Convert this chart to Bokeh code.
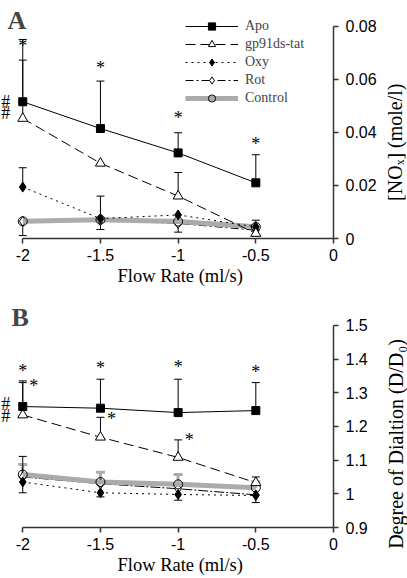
import math
from bokeh.plotting import figure
from bokeh.models import Range1d, FixedTicker, Label, Legend, LegendItem, Title
from bokeh.layouts import column, row
from bokeh.embed import file_html
from bokeh.resources import INLINE
from bokeh.core.properties import value

# ---------------- data ----------------
flow = [-2.0, -1.5, -1.0, -0.5]
x_ticks = [-2, -1.5, -1, -0.5, 0]
x_tick_labels = ["-2", "-1.5", "-1", "-0.5", "0"]

# Panel A: [NOx] (mole/l)
nox_apo = [0.0516, 0.0415, 0.0323, 0.0210]
nox_apo_up = [0.0235, 0.0179, 0.0076, 0.0106]
nox_gp91 = [0.0453, 0.0284, 0.0160, 0.0019]
nox_gp91_up = [0.0220, 0.0, 0.0089, 0.0]
nox_oxy = [0.0194, 0.0075, 0.0089, 0.0044]
nox_oxy_up = [0.0073, 0.0085, 0.0, 0.0025]
nox_rot = [0.0065, 0.0068, 0.0057, 0.0031]
nox_ctrl = [0.0065, 0.0071, 0.0064, 0.0044]
nox_ctrl_dn = [0.0054, 0.0037, 0.0040, 0.0]
nox_ticks = [0, 0.02, 0.04, 0.06, 0.08]
nox_tick_labels = ["0", "0.02", "0.04", "0.06", "0.08"]
nox_star_y = [0.0726, 0.0642, 0.0453, 0.0356]
nox_hash_y = [0.0515, 0.0472]

# Panel B: Degree of dilation (D/D0)
dil_apo = [1.259, 1.254, 1.241, 1.247]
dil_apo_up = [0.076, 0.086, 0.099, 0.083]
dil_gp91 = [1.234, 1.168, 1.108, 1.033]
dil_gp91_up = [0.096, 0.059, 0.052, 0.017]
dil_oxy = [1.035, 1.003, 0.998, 0.995]
dil_oxy_dn = [0.032, 0.012, 0.017, 0.021]
dil_rot = [1.050, 1.030, 1.015, 0.997]
dil_rot_up = [0.061, 0.0, 0.0, 0.0]
dil_ctrl = [1.057, 1.035, 1.028, 1.018]
dil_ctrl_up = [0.030, 0.029, 0.029, 0.018]
dil_ticks = [0.9, 1, 1.1, 1.2, 1.3, 1.4, 1.5]
dil_tick_labels = ["0.9", "1", "1.1", "1.2", "1.3", "1.4", "1.5"]
dil_star_apo_y = [1.364, 1.372, 1.375, 1.360]
dil_star_gp91_x = [-2.0, -1.5, -1.0]
dil_star_gp91_y = [1.321, 1.222, 1.160]
dil_hash_y = [1.2665, 1.2311]

x_title = "Flow Rate (ml/s)"
y_title_a = "[NO\u2093] (mole/l)"
y_title_b = "Degree of Dialtion (D/D\u2080)"

GRAY = "#ababab"
AXIS = "#333333"
SERIF = "Liberation Serif"
SANS = "Liberation Sans"
MAIN_W = 379
SIDE_W = 28


def err_bars(p, xs, ys, errs, sign, color="black", width=1, cap=8):
    x0, y0, y1 = [], [], []
    for x, y, e in zip(xs, ys, errs):
        if e > 0:
            x0.append(x)
            y0.append(y)
            y1.append(y + sign * e)
    p.segment(x0=x0, y0=y0, x1=x0, y1=y1, line_color=color, line_width=width)
    p.scatter(x=x0, y=y1, marker="dash", size=cap, line_color=color, line_width=width)


def series(p, ys, dash, marker, fill, size, lw=1, color="black"):
    l = p.line(flow, ys, line_color=color, line_width=lw, line_dash=dash)
    s = p.scatter(flow, ys, marker=marker, size=size, line_color="black",
                  fill_color=fill, line_width=1)
    return [l, s]


def style(p, yticks, ylabels, ybounds, title_standoff):
    p.xaxis.ticker = FixedTicker(ticks=x_ticks)
    p.xaxis.major_label_overrides = {t: l for t, l in zip(x_ticks, x_tick_labels)}
    p.yaxis.ticker = FixedTicker(ticks=yticks)
    p.yaxis.major_label_overrides = {t: l for t, l in zip(yticks, ylabels)}
    p.xaxis.bounds = (-2, 0)
    p.yaxis.bounds = ybounds
    for ax in (p.xaxis, p.yaxis):
        ax.major_tick_out = 5
        ax.major_tick_in = 0
        ax.minor_tick_out = 0
        ax.minor_tick_in = 0
        ax.axis_line_color = AXIS
        ax.axis_line_width = 1.5
        ax.major_tick_line_color = AXIS
        ax.major_tick_line_width = 1.5
        ax.major_label_text_font = SANS
        ax.major_label_text_font_size = "16px"
        ax.major_label_text_color = "black"
    p.xaxis.major_label_standoff = 5
    p.yaxis.major_label_standoff = 7
    p.xgrid.visible = False
    p.ygrid.visible = False
    p.outline_line_color = None
    p.add_layout(Title(text=x_title, align="left", offset=117, standoff=title_standoff,
                       vertical_align="top", text_font=SERIF, text_font_size="18.5px",
                       text_font_style="normal", text_color="black"), "below")


def text(p, xs, ys, t, size, x_offset=0):
    p.text(x=xs, y=ys, text=t, text_font=value(SERIF), text_font_size=value(size),
           text_align="center", text_baseline="middle", x_offset=x_offset,
           text_color="black")


def side_label(height, label, cx, cy):
    s = figure(width=SIDE_W, height=height, x_range=Range1d(0, SIDE_W),
               y_range=Range1d(height, 0), x_axis_type=None, y_axis_type=None,
               output_backend="svg", toolbar_location=None,
               min_border_left=0, min_border_right=0, min_border_top=0, min_border_bottom=0)
    s.outline_line_color = None
    s.xgrid.visible = False
    s.ygrid.visible = False
    s.add_layout(Label(x=cx, y=cy, text=label, text_font=SERIF, text_font_size="20px",
                       text_align="center", text_baseline="middle", angle=math.pi / 2,
                       text_color="black"))
    return s


# ---------------- Panel A ----------------
pA = figure(width=MAIN_W, height=290, x_range=Range1d(-2.1433, 0), y_range=Range1d(0, 0.0898),
            y_axis_location="right", output_backend="svg", toolbar_location=None,
            min_border_left=0, min_border_right=MAIN_W - 335, min_border_top=0,
            min_border_bottom=52)
style(pA, nox_ticks, nox_tick_labels, (0, 0.08), 4)

err_bars(pA, flow, nox_apo, nox_apo_up, 1)
err_bars(pA, flow, nox_gp91, nox_gp91_up, 1)
err_bars(pA, flow, nox_oxy, nox_oxy_up, 1)
err_bars(pA, flow, nox_ctrl, nox_ctrl_dn, -1)

rotA = series(pA, nox_rot, "8 3 2 3", "diamond", "white", 10)
ctrlA = series(pA, nox_ctrl, "solid", "circle", None, 9, lw=5, color=GRAY)
oxyA = series(pA, nox_oxy, "2 4", "diamond", "black", 10)
gpA = series(pA, nox_gp91, "10 5", "triangle", "white", 10)
apoA = series(pA, nox_apo, "solid", "square", "black", 8)

text(pA, flow, nox_star_y, ["*"] * 4, "18px")
text(pA, [-2.0, -2.0], nox_hash_y, ["#", "#"], "18px", x_offset=-17)

legend = Legend(items=[LegendItem(label="Apo", renderers=apoA),
                       LegendItem(label="gp91ds-tat", renderers=gpA),
                       LegendItem(label="Oxy", renderers=oxyA),
                       LegendItem(label="Rot", renderers=rotA),
                       LegendItem(label="Control", renderers=ctrlA)],
                location=(185, 131), orientation="vertical", glyph_width=53, glyph_height=18,
                label_height=18, label_standoff=7, spacing=0, padding=0, margin=0,
                border_line_color=None, background_fill_alpha=0,
                label_text_font=SERIF, label_text_font_size="14px")
pA.add_layout(legend)

pA.add_layout(Label(x=-2.0985, y=0.0823, text="A", text_font=SERIF, text_font_size="26px",
                    text_font_style="bold", text_align="left", text_baseline="alphabetic"))

# ---------------- Panel B ----------------
pB = figure(width=MAIN_W, height=288, x_range=Range1d(-2.1433, 0), y_range=Range1d(0.9, 1.6033),
            y_axis_location="right", output_backend="svg", toolbar_location=None,
            min_border_left=0, min_border_right=MAIN_W - 335, min_border_top=0,
            min_border_bottom=50)
style(pB, dil_ticks, dil_tick_labels, (0.9, 1.5), 4)

err_bars(pB, flow, dil_ctrl, dil_ctrl_up, 1, color=GRAY, width=3, cap=9)
err_bars(pB, flow, dil_apo, dil_apo_up, 1)
err_bars(pB, flow, dil_gp91, dil_gp91_up, 1)
err_bars(pB, flow, dil_oxy, dil_oxy_dn, -1)
err_bars(pB, flow, dil_rot, dil_rot_up, 1)

series(pB, dil_rot, "10 2 2 2", "diamond", "white", 10)
series(pB, dil_ctrl, "solid", "circle", None, 9, lw=5, color=GRAY)
series(pB, dil_oxy, "2 4", "diamond", "black", 10)
series(pB, dil_gp91, "10 5", "triangle", "white", 10)
series(pB, dil_apo, "solid", "square", "black", 8)

text(pB, flow, dil_star_apo_y, ["*"] * 4, "18px")
text(pB, dil_star_gp91_x, dil_star_gp91_y, ["*"] * 3, "18px", x_offset=11)
text(pB, [-2.0, -2.0], dil_hash_y, ["#", "#"], "18px", x_offset=-17)

pB.add_layout(Label(x=-2.073, y=1.5228, text="B", text_font=SERIF, text_font_size="26px",
                    text_font_style="bold", text_align="left", text_baseline="alphabetic"))

# right-hand axis titles (rotated, reading upwards)
sA = side_label(290, y_title_a, 15, 141.7)
sB = side_label(288, y_title_b, 16, 153.5)

layout = row(column(pA, pB), column(sA, sB))

open("out.html", "w").write(file_html(layout, INLINE))
